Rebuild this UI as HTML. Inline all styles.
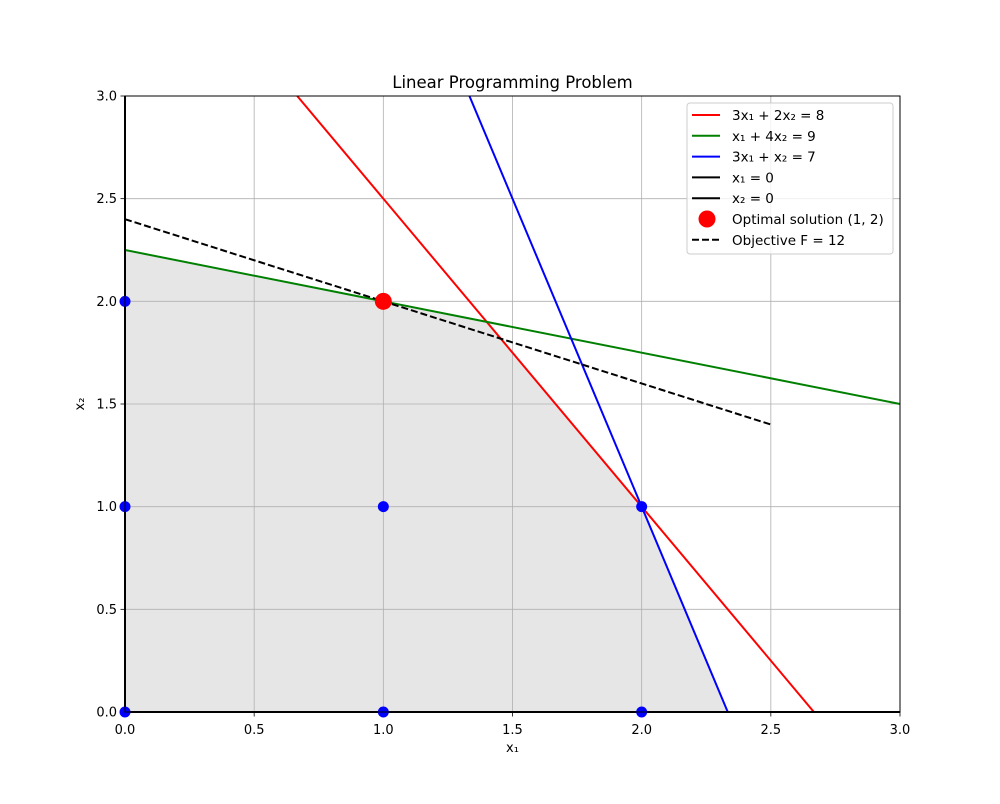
<!DOCTYPE html>
<html><head><meta charset="utf-8"><style>
body{margin:0;background:#fff;font-family:"DejaVu Sans","Liberation Sans",sans-serif;}
text{font-family:"DejaVu Sans","Liberation Sans",sans-serif;}
</style></head><body>
<svg id="chart" width="1000" height="800" xmlns="http://www.w3.org/2000/svg"></svg>
<script>
const xTicks=[0,0.5,1,1.5,2,2.5,3];
const yTicks=[0,0.5,1,1.5,2,2.5,3];
const tickLabels=["0.0","0.5","1.0","1.5","2.0","2.5","3.0"];
const feasibleX=[0,0,1.4,2,2.3333];
const feasibleY=[0,2.25,1.9,1,0];
const lineNames=["constraint-red","constraint-green","constraint-blue","objective-line"];
const lineX1=[0.6667,0,1.3333,0];
const lineY1=[3,2.25,3,2.4];
const lineX2=[2.6667,3,2.3333,2.5];
const lineY2=[0,1.5,0,1.4];
const lineColors=["#ff0000","#008000","#0000ff","#000"];
const intPtsX=[0,0,0,1,1,2,2];
const intPtsY=[0,1,2,0,1,0,1];
const optX=[1],optY=[2];
const legendLabels=["3x₁ + 2x₂ = 8","x₁ + 4x₂ = 9","3x₁ + x₂ = 7","x₁ = 0","x₂ = 0","Optimal solution (1, 2)","Objective F = 12"];

const L=125,R=900,T=96,B=712;
const sx=v=>L+(v/3)*(R-L), sy=v=>B-(v/3)*(B-T);
const svg=document.getElementById('chart');
const NS="http://www.w3.org/2000/svg";
function mk(tag,attrs,parent){const e=document.createElementNS(NS,tag);for(const k in attrs)e.setAttribute(k,attrs[k]);(parent||svg).appendChild(e);return e;}

let poly=mk('polygon',{points:feasibleX.map((x,i)=>sx(x)+','+sy(feasibleY[i])).join(' '),fill:'#e6e6e6'});


xTicks.forEach((v,i)=>{
 let g=mk('line',{x1:sx(v),x2:sx(v),y1:T,y2:B,stroke:'#b0b0b0','stroke-width':0.8});
 
 
 mk('line',{x1:sx(v),x2:sx(v),y1:B,y2:B+4.5,stroke:'#000','stroke-width':0.8});
 let t=mk('text',{x:sx(v),y:B+22,'font-size':13,'text-anchor':'middle'});t.textContent=tickLabels[i];
 
 
});
yTicks.forEach((v,i)=>{
 let g=mk('line',{x1:L,x2:R,y1:sy(v),y2:sy(v),stroke:'#b0b0b0','stroke-width':0.8});
 
 
 mk('line',{x1:L-4.5,x2:L,y1:sy(v),y2:sy(v),stroke:'#000','stroke-width':0.8});
 let t=mk('text',{x:L-8,y:sy(v)+4.5,'font-size':13,'text-anchor':'end'});t.textContent=tickLabels[i];
 
 
});
lineNames.forEach((n,i)=>{
 let l=mk('line',{x1:sx(lineX1[i]),y1:sy(lineY1[i]),x2:sx(lineX2[i]),y2:sy(lineY2[i]),stroke:lineColors[i],'stroke-width':2});
 if(i===3)l.setAttribute('stroke-dasharray','7,3');
 
 
});
let ax1=mk('line',{x1:sx(0),y1:sy(0),x2:sx(0),y2:sy(3),stroke:'#000','stroke-width':2});


let ax2=mk('line',{x1:sx(0),y1:sy(0),x2:sx(3),y2:sy(0),stroke:'#000','stroke-width':2});


intPtsX.forEach((x,i)=>{
 let c=mk('circle',{cx:sx(x),cy:sy(intPtsY[i]),r:5.5,fill:'#0000ff'});
 
 
});
optX.forEach((x,i)=>{
 let c=mk('circle',{cx:sx(x),cy:sy(optY[i]),r:8.5,fill:'#ff0000'});
 
 
});
let fr=mk('rect',{x:L,y:T,width:R-L,height:B-T,fill:'none',stroke:'#000','stroke-width':1});


let ti=mk('text',{x:(L+R)/2,y:88,'font-size':16.5,'text-anchor':'middle'});ti.textContent="Linear Programming Problem";


let xl=mk('text',{x:(L+R)/2,y:752,'font-size':13,'text-anchor':'middle'});xl.textContent="x₁";


let yl=mk('text',{x:84,y:404,'font-size':13,'text-anchor':'middle',transform:'rotate(-90 84 404)'});yl.textContent="x₂";



let lg=mk('g',{});


mk('rect',{x:687,y:103,width:206,height:151,rx:3,fill:'#fff','fill-opacity':0.8,stroke:'#ccc'},lg);
const symColors=["#ff0000","#008000","#0000ff","#000","#000"];
legendLabels.forEach((s,i)=>{
 const y=115+i*20.8;
 if(i<5)mk('line',{x1:692,x2:720,y1:y,y2:y,stroke:symColors[i],'stroke-width':2},lg);
 else if(i===5)mk('circle',{cx:707,cy:y,r:8.5,fill:'#ff0000'},lg);
 else mk('line',{x1:692,x2:720,y1:y,y2:y,stroke:'#000','stroke-width':2,'stroke-dasharray':'7,3'},lg);
 let t=mk('text',{x:732,y:y+5,'font-size':13.5},lg);t.textContent=s;
 
 
});
</script>
</body></html>
